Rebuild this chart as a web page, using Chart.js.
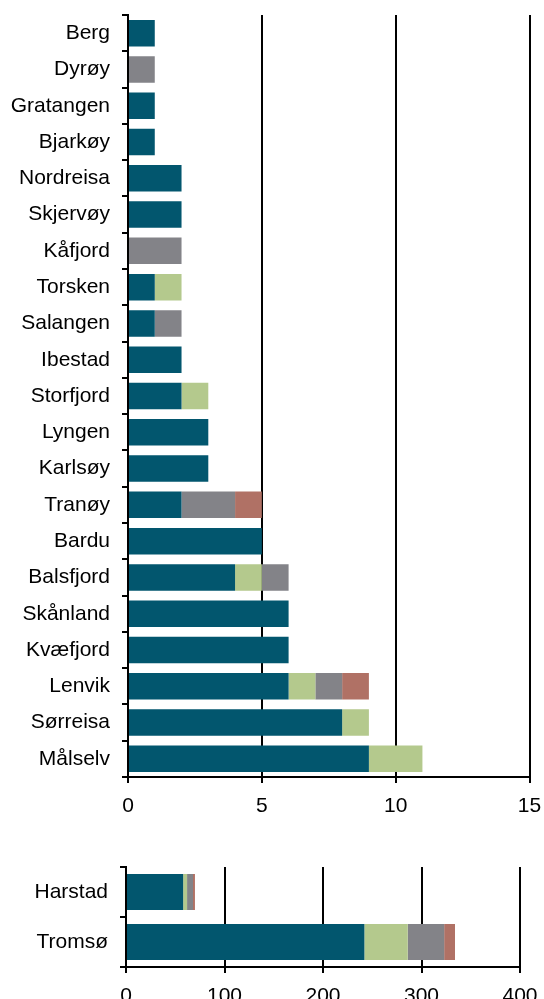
<!DOCTYPE html>
<html>
<head>
<meta charset="utf-8">
<script src="https://cdn.jsdelivr.net/npm/chart.js@4/dist/chart.umd.min.js"></script>
<style>
  body { margin: 0; background: #fff; width: 544px; height: 999px; overflow: hidden; position: relative; }
  canvas { position: absolute; left: 0; }
  #topChart { top: 0; }
  #bottomChart { top: 820px; }
</style>
</head>
<body>
<canvas id="topChart" width="544" height="820"></canvas>
<canvas id="bottomChart" width="544" height="179"></canvas>
<script>
// kommuner (øvre panel)
const kommuner = ['Berg', 'Dyrøy', 'Gratangen', 'Bjarkøy', 'Nordreisa', 'Skjervøy', 'Kåfjord',
  'Torsken', 'Salangen', 'Ibestad', 'Storfjord', 'Lyngen', 'Karlsøy', 'Tranøy', 'Bardu',
  'Balsfjord', 'Skånland', 'Kvæfjord', 'Lenvik', 'Sørreisa', 'Målselv'];
const serie1 = [1, 0, 1, 1, 2, 2, 0, 1, 1, 2, 2, 3, 3, 2, 5, 4, 6, 6, 6, 8, 9];
const serie2 = [0, 0, 0, 0, 0, 0, 0, 1, 0, 0, 1, 0, 0, 0, 0, 1, 0, 0, 1, 1, 2];
const serie3 = [0, 1, 0, 0, 0, 0, 2, 0, 1, 0, 0, 0, 0, 2, 0, 1, 0, 0, 1, 0, 0];
const serie4 = [0, 0, 0, 0, 0, 0, 0, 0, 0, 0, 0, 0, 0, 1, 0, 0, 0, 0, 1, 0, 0];
const topTicks = [0, 5, 10, 15];

// byer (nedre panel)
const byer = ['Harstad', 'Tromsø'];
const bySerie1 = [58, 242];
const bySerie2 = [4, 44];
const bySerie3 = [6, 37];
const bySerie4 = [2, 11];
const bottomTicks = [0, 100, 200, 300, 400];

const colors = ['#02566e', '#b4c98d', '#838388', '#b07165'];
const font = { family: '"Liberation Sans", Arial, sans-serif', size: 21 };

function makeDatasets(lists, barPct) {
  return lists.map((d, i) => ({
    label: 'Serie ' + (i + 1),
    data: d,
    backgroundColor: colors[i],
    borderWidth: 0,
    categoryPercentage: 1,
    barPercentage: barPct
  }));
}

// no label overflow padding, so the layout padding decides the plot edges
function noOverflow(s) {
  s.paddingLeft = 0; s.paddingRight = 0; s.paddingTop = 0; s.paddingBottom = 0;
}

function makeChart(id, labels, lists, max, ticks, pad, yWidth, xHeight, barPct) {
  new Chart(document.getElementById(id), {
    type: 'bar',
    data: { labels: labels, datasets: makeDatasets(lists, barPct) },
    options: {
      indexAxis: 'y',
      responsive: false,
      animation: false,
      layout: { padding: pad },
      plugins: { legend: { display: false }, tooltip: { enabled: false } },
      scales: {
        x: {
          stacked: true,
          min: 0, max: max,
          afterBuildTicks: s => { s.ticks = ticks.map(v => ({ value: v })); },
          afterFit: s => { s.height = xHeight; noOverflow(s); },
          grid: { color: '#000', lineWidth: 2, tickLength: 6, drawOnChartArea: true },
          border: { color: '#000', width: 2 },
          ticks: { color: '#000', font: font, padding: 11, maxRotation: 0 }
        },
        y: {
          stacked: true,
          afterFit: s => { s.width = yWidth; noOverflow(s); },
          grid: { color: '#000', lineWidth: 2, tickLength: 6, drawOnChartArea: false, offset: true },
          border: { color: '#000', width: 2 },
          ticks: { color: '#000', font: font, padding: 12 }
        }
      }
    }
  });
}

makeChart('topChart', kommuner, [serie1, serie2, serie3, serie4], 15, topTicks,
  { top: 15, right: 14.5, bottom: 0, left: 0 }, 128, 43, 0.73);
makeChart('bottomChart', byer, [bySerie1, bySerie2, bySerie3, bySerie4], 400, bottomTicks,
  { top: 47, right: 24, bottom: 0, left: 0 }, 126, 32, 0.72);
</script>
</body>
</html>
